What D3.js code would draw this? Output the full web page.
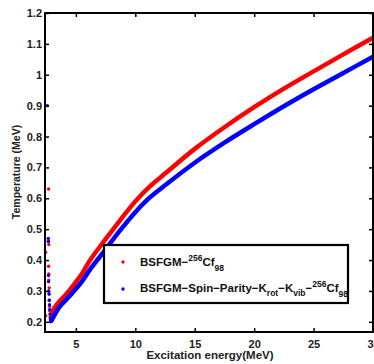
<!DOCTYPE html>
<html><head><meta charset="utf-8">
<script src="https://cdn.jsdelivr.net/npm/d3@7"></script>
<style>body{margin:0;background:#fff;} text{font-family:"Liberation Sans",Arial,sans-serif;font-weight:bold;}</style>
</head><body>
<svg id="c" width="374" height="364"></svg>
<script>
// Main curve samples (Excitation energy MeV, Temperature MeV)
const redE = [2.85, 3.2, 3.66, 4.2, 4.92, 5.5, 6.2, 7.45, 8.7, 10, 11.2, 12.5, 15, 17.5, 20, 22.5, 25, 27.5, 30];
const redT = [0.212, 0.245, 0.268, 0.290, 0.325, 0.355, 0.400, 0.465, 0.528, 0.590, 0.638, 0.680, 0.760, 0.830, 0.895, 0.955, 1.011, 1.066, 1.120];
const blueE = [2.9, 3.2, 3.66, 4.2, 4.92, 5.5, 6.2, 7.45, 8.7, 10, 11.2, 12.5, 15, 17.5, 20, 22.5, 25, 27.5, 30];
const blueT = [0.200, 0.222, 0.250, 0.272, 0.303, 0.330, 0.370, 0.432, 0.495, 0.555, 0.602, 0.642, 0.715, 0.780, 0.840, 0.898, 0.953, 1.006, 1.058];
// Low-energy scattered points
const redLowE = [2.7, 2.7, 2.72, 2.45, 2.7, 2.72, 2.72, 2.75, 2.75, 2.77, 2.78, 2.8, 2.45];
const redLowT = [0.63, 0.46, 0.45, 0.425, 0.38, 0.355, 0.335, 0.31, 0.29, 0.27, 0.25, 0.235, 0.22];
const blueLowE = [2.6, 2.68, 2.68, 2.7, 2.7, 2.72, 2.74, 2.76, 2.78, 2.8, 2.82, 2.85, 2.87];
const blueLowT = [0.90, 0.47, 0.46, 0.35, 0.33, 0.30, 0.29, 0.27, 0.255, 0.24, 0.225, 0.21, 0.20];
const xTicks = [5, 10, 15, 20, 25, 30];
const yTicks = [0.2, 0.3, 0.4, 0.5, 0.6, 0.7, 0.8, 0.9, 1.0, 1.1, 1.2];

const svg = d3.select("#c");
const L = 45, R = 373, T = 13, B = 332;
const x = d3.scaleLinear().domain([2.4, 30]).range([L, R]);
const y = d3.scaleLinear().domain([0.167, 1.2]).range([B, T]);

const line = d3.line().x(d => x(d[0])).y(d => y(d[1])).curve(d3.curveCatmullRom.alpha(0.5));
const redData = redE.map((e, i) => [e, redT[i]]);
const blueData = blueE.map((e, i) => [e, blueT[i]]);

const plot = svg.append("g");
plot.append("path").datum(redData).attr("d", line).attr("fill", "none").attr("stroke", "#ff0000").attr("stroke-width", 4.5);
plot.append("path").datum(blueData).attr("d", line).attr("fill", "none").attr("stroke", "#0000ff").attr("stroke-width", 4.5);
plot.selectAll(".rl").data(redLowE.map((e, i) => [e, redLowT[i]])).enter().append("circle")
  .attr("cx", d => x(d[0])).attr("cy", d => y(d[1])).attr("r", 1.7).attr("fill", "#ff0000");
plot.selectAll(".bl").data(blueLowE.map((e, i) => [e, blueLowT[i]])).enter().append("circle")
  .attr("cx", d => x(d[0])).attr("cy", d => y(d[1])).attr("r", 1.7).attr("fill", "#0000ff");

// Axes
const ax = svg.append("g").attr("transform", `translate(0,${B})`)
  .call(d3.axisBottom(x).tickValues(xTicks).tickSizeInner(-4).tickSizeOuter(0).tickPadding(8).tickFormat(d3.format("d")));
const ay = svg.append("g").attr("transform", `translate(${L},0)`)
  .call(d3.axisLeft(y).tickValues(yTicks).tickSizeInner(-4).tickSizeOuter(0).tickPadding(3).tickFormat(d => d === 1 ? "1" : d3.format(".1f")(d)));
const axt = svg.append("g").attr("transform", `translate(0,${T})`)
  .call(d3.axisTop(x).tickValues(xTicks).tickSizeInner(-4).tickSizeOuter(0).tickFormat(""));
const ayr = svg.append("g").attr("transform", `translate(${R},0)`)
  .call(d3.axisRight(y).tickValues(yTicks).tickSizeInner(-4).tickSizeOuter(0).tickFormat(""));
[ax, ay, axt, ayr].forEach(g => {
  g.select(".domain").remove();
  g.selectAll("line").attr("stroke", "#000").attr("stroke-width", 1.5);
  g.selectAll("text").attr("font-size", 11).attr("font-family", "Liberation Sans, Arial, sans-serif").attr("font-weight", "bold").attr("fill", "#222");
});
svg.append("rect").attr("x", L).attr("y", T).attr("width", R - L).attr("height", B - T)
  .attr("fill", "none").attr("stroke", "#000").attr("stroke-width", 2);

// Axis titles
svg.append("text").attr("x", 210).attr("y", 359).attr("text-anchor", "middle").attr("font-size", 11.5).attr("fill", "#222").text("Excitation energy(MeV)");
svg.append("text").attr("transform", "translate(20,172) rotate(-90)").attr("text-anchor", "middle").attr("font-size", 10.5).attr("fill", "#222").text("Temperature (MeV)");

// Legend
const lg = svg.append("g");
lg.append("rect").attr("x", 104).attr("y", 245).attr("width", 244).attr("height", 58).attr("fill", "#fff").attr("stroke", "#000").attr("stroke-width", 2.2);
lg.append("circle").attr("cx", 123).attr("cy", 262).attr("r", 1.7).attr("fill", "#ff0000");
lg.append("circle").attr("cx", 123).attr("cy", 289).attr("r", 1.7).attr("fill", "#0000ff");
const t1 = lg.append("text").attr("x", 140).attr("y", 266).attr("font-size", 11.5).attr("fill", "#111");
t1.append("tspan").text("BSFGM\u2212");
t1.append("tspan").attr("dy", -5).attr("font-size", 8.5).text("256");
t1.append("tspan").attr("dy", 5).text("Cf");
t1.append("tspan").attr("dy", 5).attr("font-size", 8.5).text("98");
const t2 = lg.append("text").attr("x", 140).attr("y", 292).attr("font-size", 11.5).attr("fill", "#111");
t2.append("tspan").text("BSFGM\u2212Spin\u2212Parity\u2212K");
t2.append("tspan").attr("dy", 4).attr("font-size", 8.5).text("rot");
t2.append("tspan").attr("dy", -4).text("\u2212K");
t2.append("tspan").attr("dy", 4).attr("font-size", 8.5).text("vib");
t2.append("tspan").attr("dy", -4).text("\u2212");
t2.append("tspan").attr("dy", -5).attr("font-size", 8.5).text("256");
t2.append("tspan").attr("dy", 5).text("Cf");
t2.append("tspan").attr("dy", 5).attr("font-size", 8.5).text("98");
</script>
</body></html>
